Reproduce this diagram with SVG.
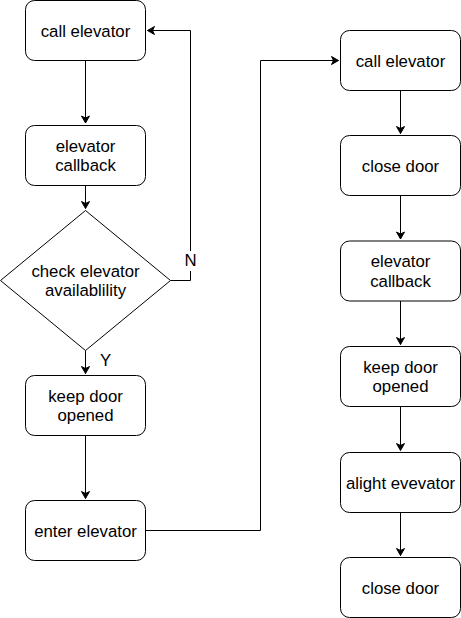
<svg xmlns="http://www.w3.org/2000/svg" width="461" height="618" viewBox="0 0 461 618">
<defs>
<marker id="arr" markerUnits="userSpaceOnUse" markerWidth="10" markerHeight="10" viewBox="0 0 10 10" refX="8" refY="5" orient="auto">
<path d="M1,1 L8,5 L1,9 L3,5 Z" fill="#000" stroke="#000" stroke-width="1" stroke-linejoin="miter"/>
</marker>
</defs>
<style>
.box{fill:#fff;stroke:#000;stroke-width:1}
.t{font-family:"Liberation Sans",Arial,sans-serif;font-size:16.8px;fill:#000;text-anchor:middle}
.c{fill:none;stroke:#000;stroke-width:1}
</style>
<rect width="461" height="618" fill="#fff"/>
<g id="connectors">
<path class="c" d="M85.5,60.5 V123" marker-end="url(#arr)"/>
<path class="c" d="M85.5,185.5 V208.5" marker-end="url(#arr)"/>
<path class="c" d="M170.5,280.5 H190.5 V30.5 H147.5" marker-end="url(#arr)"/>
<path class="c" d="M85.5,350.5 V373.5" marker-end="url(#arr)"/>
<path class="c" d="M85.5,435.5 V498.5" marker-end="url(#arr)"/>
<path class="c" d="M145.5,530.5 H260.5 V60.5 H338.5" marker-end="url(#arr)"/>
<path class="c" d="M400.5,90.5 V133.5" marker-end="url(#arr)"/>
<path class="c" d="M400.5,195.5 V239" marker-end="url(#arr)"/>
<path class="c" d="M400.5,301 V344.5" marker-end="url(#arr)"/>
<path class="c" d="M400.5,406.5 V450.5" marker-end="url(#arr)"/>
<path class="c" d="M400.5,512.5 V555.5" marker-end="url(#arr)"/>
<rect x="183" y="251" width="15" height="20" fill="#fff"/>
<text class="t" x="190.5" y="266">N</text>
<text class="t" x="105.5" y="365.5">Y</text>
</g>
<g id="n1"><rect class="box" x="25.5" y="0.5" width="120" height="60" rx="9"/><text class="t" x="85.5" y="36.5">call elevator</text></g>
<g id="n2"><rect class="box" x="25.5" y="125.5" width="120" height="60" rx="9"/><text class="t" x="85.5" y="151.8">elevator</text><text class="t" x="85.5" y="171">callback</text></g>
<g id="n3"><path class="box" d="M85.5,210.5 L170.5,280.5 L85.5,350.5 L0.5,280.5 Z"/><text class="t" x="85.5" y="276.8">check elevator</text><text class="t" x="85.5" y="296">availablility</text></g>
<g id="n4"><rect class="box" x="25.5" y="375.5" width="120" height="60" rx="9"/><text class="t" x="85.5" y="401.8">keep door</text><text class="t" x="85.5" y="421">opened</text></g>
<g id="n5"><rect class="box" x="25.5" y="500.5" width="120" height="60" rx="9"/><text class="t" x="85.5" y="536.5">enter elevator</text></g>
<g id="n6"><rect class="box" x="340.5" y="30.5" width="120" height="60" rx="9"/><text class="t" x="400.5" y="66.5">call elevator</text></g>
<g id="n7"><rect class="box" x="340.5" y="135.5" width="120" height="60" rx="9"/><text class="t" x="400.5" y="171.5">close door</text></g>
<g id="n8"><rect class="box" x="340.5" y="241" width="120" height="60" rx="9"/><text class="t" x="400.5" y="267.3">elevator</text><text class="t" x="400.5" y="286.5">callback</text></g>
<g id="n9"><rect class="box" x="340.5" y="346.5" width="120" height="60" rx="9"/><text class="t" x="400.5" y="372.8">keep door</text><text class="t" x="400.5" y="392">opened</text></g>
<g id="n10"><rect class="box" x="340.5" y="452.5" width="120" height="60" rx="9"/><text class="t" x="400.5" y="488.5">alight evevator</text></g>
<g id="n11"><rect class="box" x="340.5" y="557.5" width="120" height="60" rx="9"/><text class="t" x="400.5" y="593.5">close door</text></g>
</svg>
